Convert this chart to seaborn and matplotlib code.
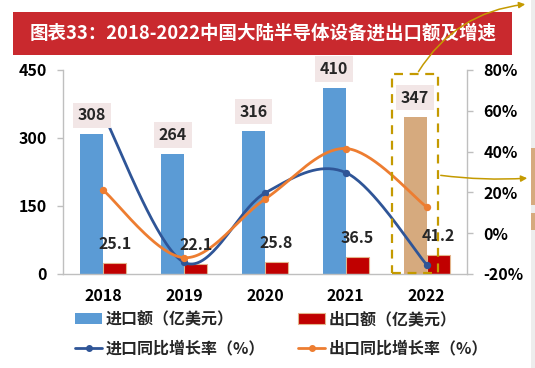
import numpy as np
import pandas as pd
import matplotlib
matplotlib.use("Agg")
import matplotlib.pyplot as plt
import seaborn as sns
from matplotlib.patches import Rectangle, Patch, FancyArrowPatch
from matplotlib.lines import Line2D

# data
years = ["2018", "2019", "2020", "2021", "2022"]
imports = [308, 264, 316, 410, 347]          # 亿美元
exports = [25.1, 22.1, 25.8, 36.5, 41.2]     # 亿美元
import_growth = [58.0, -14.3, 19.7, 29.7, -15.4]   # %
export_growth = [21.0, -12.0, 16.7, 41.5, 12.9]    # %

title = "图表33：2018-2022中国大陆半导体设备进出口额及增速"
imp_label = "进口额（亿美元）"
exp_label = "出口额（亿美元）"
imp_g_label = "进口同比增长率（%）"
exp_g_label = "出口同比增长率（%）"

BLUE_BAR = "#5B9BD5"
RED_BAR = "#C00000"
TAN = "#D6AA7E"
LINE_BLUE = "#2F5597"
LINE_ORANGE = "#ED7D31"
GOLD = "#C49A00"
AXIS_GREY = "#BFBFBF"

W, H = 535, 368


def px(x, y):
    return x / W, 1 - y / H


def smooth(xs, ys, n=40):
    # Excel-style smoothed line (bezier through the points)
    pts = np.column_stack([xs, ys]).astype(float)
    ext = np.vstack([pts[0], pts, pts[-1]])
    segs = []
    t = np.linspace(0, 1, n)[:, None]
    for i in range(len(pts) - 1):
        p0, p1, p2, p3 = ext[i], ext[i + 1], ext[i + 2], ext[i + 3]
        c1 = p1 + (p2 - p0) / 6
        c2 = p2 - (p3 - p1) / 6
        segs.append((1 - t) ** 3 * p1 + 3 * (1 - t) ** 2 * t * c1
                    + 3 * (1 - t) * t ** 2 * c2 + t ** 3 * p2)
    out = np.vstack(segs)
    return out[:, 0], out[:, 1]


sns.set_style("white")
plt.rcParams["font.family"] = ["Noto Sans CJK SC", "DejaVu Sans"]

df = pd.DataFrame({
    "year": years * 2,
    "value": imports + exports,
    "kind": [imp_label] * len(years) + [exp_label] * len(years),
})

fig = plt.figure(figsize=(W / 100, H / 100), dpi=100)
ax = fig.add_axes([63 / W, 1 - 274 / H, (467 - 63) / W, (274 - 70) / H])

sns.barplot(data=df, x="year", y="value", hue="kind", ax=ax, width=0.57,
            palette=[BLUE_BAR, RED_BAR], legend=False, saturation=1)

for i, bar in enumerate(ax.containers[0]):
    bar.set_linewidth(0)
    if i == len(years) - 1:
        bar.set_facecolor(TAN)
for bar in ax.containers[1]:
    bar.set_edgecolor("#E3B58C")
    bar.set_linewidth(0.8)

ax.set_ylim(0, 450)
ax.set_xlim(-0.5, len(years) - 0.5)
ax.set_yticks([0, 150, 300, 450])
ax.set_xlabel("")
ax.set_ylabel("")

ax2 = ax.twinx()
ax2.set_ylim(-20, 80)
ax2.set_yticks(range(-20, 81, 20))
ax2.set_yticklabels([f"{v}%" for v in range(-20, 81, 20)])

xs = np.arange(len(years))
for vals, col in [(import_growth, LINE_BLUE), (export_growth, LINE_ORANGE)]:
    sx, sy = smooth(xs, vals)
    ax2.plot(sx, sy, color=col, lw=2.0, solid_capstyle="round", zorder=3)
    sns.scatterplot(x=xs, y=vals, ax=ax2, color=col, s=28, edgecolor=col,
                    linewidth=0, zorder=4, legend=False)

# spines / ticks
for a in (ax, ax2):
    a.spines["top"].set_visible(False)
    for s in ("left", "right", "bottom"):
        a.spines[s].set_color(AXIS_GREY)
        a.spines[s].set_linewidth(1.0)
ax.spines["right"].set_visible(False)
ax2.spines["left"].set_visible(False)
ax2.spines["bottom"].set_visible(False)

ax.tick_params(axis="y", length=4.5, width=1, color=AXIS_GREY, pad=7,
               labelsize=11.5)
ax2.tick_params(axis="y", length=4, width=1, color=AXIS_GREY, pad=8,
                labelsize=11.5)
ax.tick_params(axis="x", length=0, pad=10, labelsize=11.5)
ax.set_xticks(np.arange(-0.5, len(years), 1), minor=True)
ax.tick_params(axis="x", which="minor", length=4, width=1, color=AXIS_GREY)
for lab in ax.get_xticklabels() + ax.get_yticklabels() + ax2.get_yticklabels():
    lab.set_fontweight("bold")
    lab.set_color("black")

# value labels
for i, v in enumerate(imports):
    ax2.text(i - 0.1425, v + 42, f"{v:g}", transform=ax.transData,
             ha="center", va="center", fontsize=11.5, fontweight="bold",
             zorder=6,
             bbox=dict(boxstyle="square,pad=0.3", fc="#F2E6E6", ec="none"))
for i, v in enumerate(exports):
    ax2.text(i + 0.1425, v + 42, f"{v:.1f}", transform=ax.transData,
             ha="center", va="center", fontsize=11.5, fontweight="bold",
             zorder=6)

# title banner
fig.patches.append(Rectangle(px(13, 55), 499 / W, 43 / H,
                             transform=fig.transFigure, fc="#C9292E",
                             ec="none", zorder=0))
fig.text(*px(263, 33), title, color="white", fontsize=13.3, fontweight="bold",
         ha="center", va="center")

# dashed highlight box around 2022 and arrows
fig.patches.append(Rectangle(px(392, 273), 46 / W, 199 / H,
                             transform=fig.transFigure, fill=False,
                             ec=GOLD, lw=1.6, ls=(0, (4, 3)), zorder=10))
fig.patches.append(FancyArrowPatch(px(417, 74), px(528, 4),
                                   transform=fig.transFigure,
                                   connectionstyle="arc3,rad=-0.25",
                                   arrowstyle="-|>", mutation_scale=9,
                                   color=GOLD, lw=1.1, zorder=10))
fig.patches.append(FancyArrowPatch(px(438, 175), px(530, 178),
                                   transform=fig.transFigure,
                                   connectionstyle="arc3,rad=0.05",
                                   arrowstyle="-|>", mutation_scale=9,
                                   color=GOLD, lw=1.1, zorder=10))

# cut-off element at the right edge
fig.patches.append(Rectangle(px(531, 368), 4 / W, 1, transform=fig.transFigure,
                             fc="#EDEDED", ec="none", zorder=1))
fig.patches.append(Rectangle(px(531, 205), 4 / W, 57 / H,
                             transform=fig.transFigure, fc=TAN, ec="none",
                             zorder=2))
fig.patches.append(Rectangle(px(531, 230), 4 / W, 17 / H,
                             transform=fig.transFigure, fc=TAN, ec="none",
                             zorder=2))

# legend
handles = [
    Patch(fc=BLUE_BAR, ec="none"),
    Line2D([], [], color=LINE_BLUE, lw=2, marker="o", ms=4),
    Patch(fc=RED_BAR, ec="#E3B58C", lw=0.8),
    Line2D([], [], color=LINE_ORANGE, lw=2, marker="o", ms=4),
]
labels = [imp_label, imp_g_label, exp_label, exp_g_label]
fig.legend(handles, labels, ncol=2, loc="upper left",
           bbox_to_anchor=px(75, 311), frameon=False,
           prop={"size": 11.5, "weight": "bold"},
           handlelength=1.7, handletextpad=0.2, columnspacing=2.1,
           labelspacing=0.85, borderpad=0, borderaxespad=0)

fig.savefig("out.png", dpi=100)
